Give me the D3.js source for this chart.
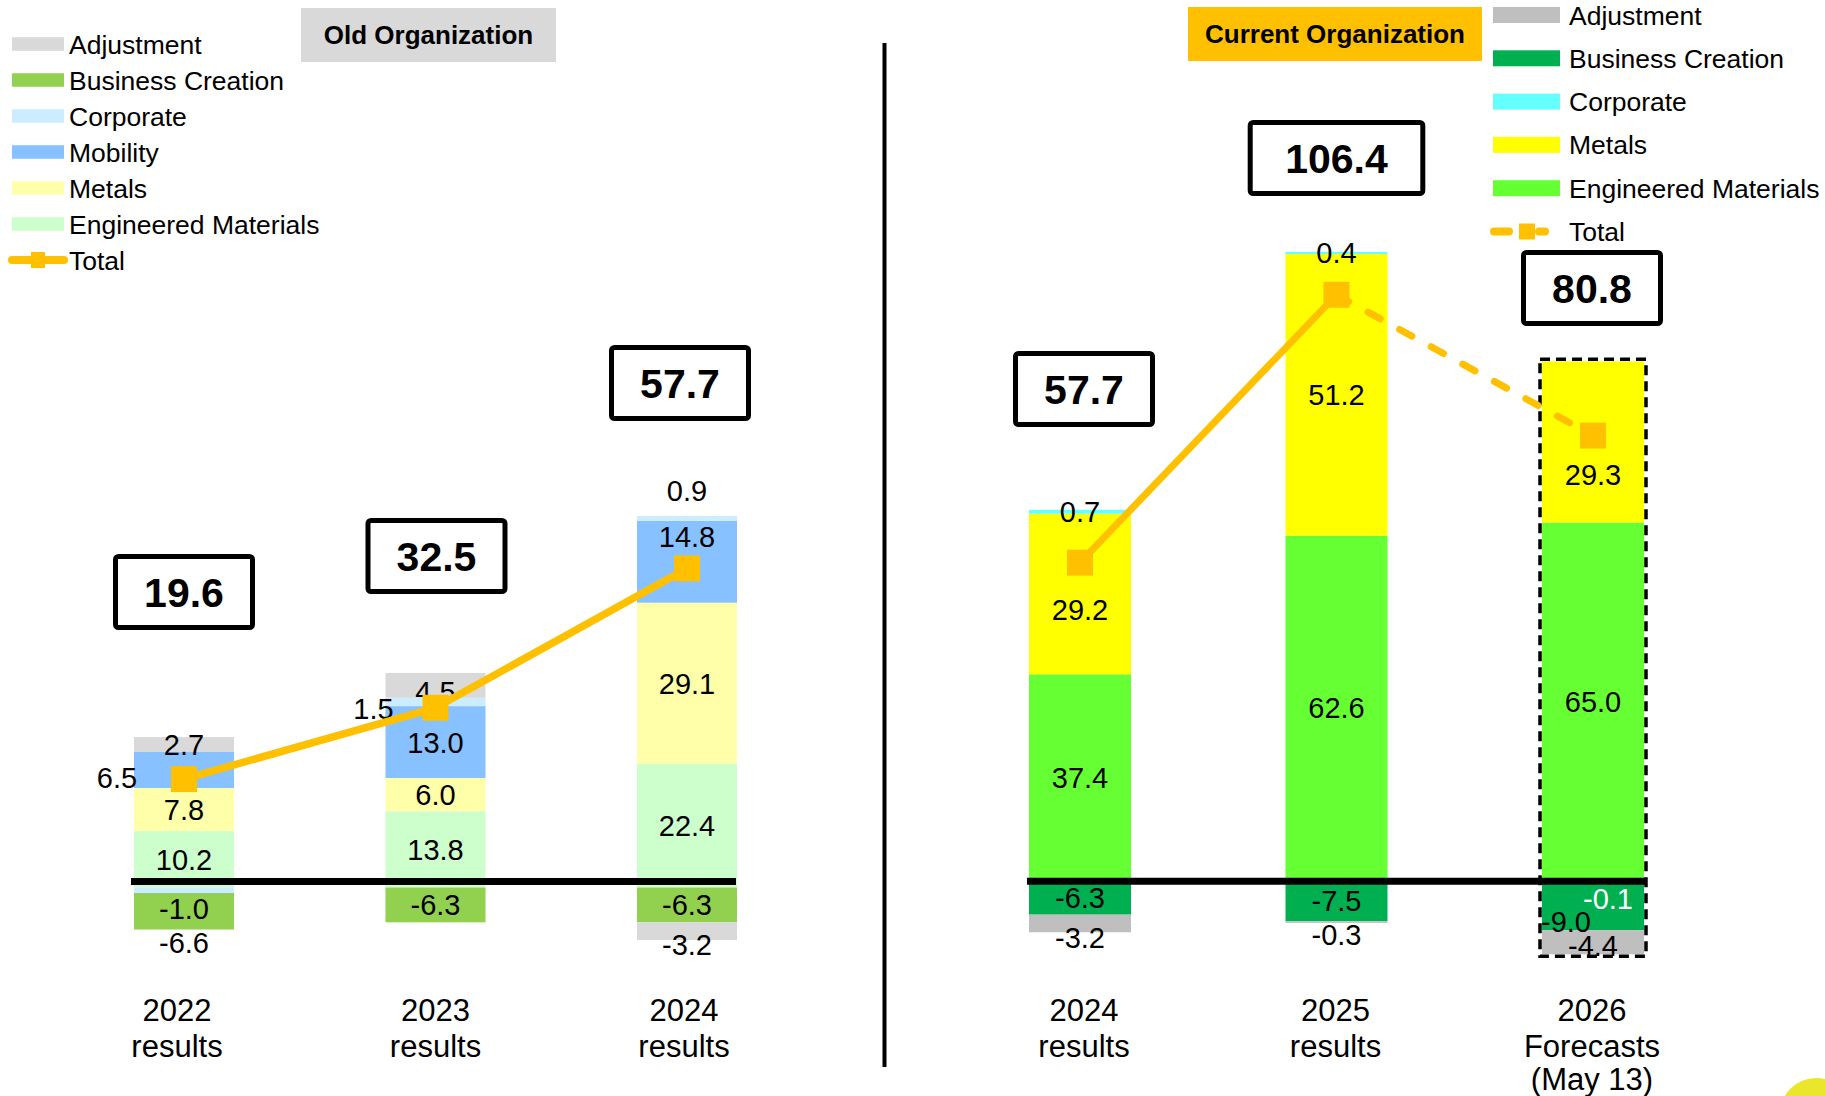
<!DOCTYPE html>
<html>
<head>
<meta charset="utf-8">
<script src="https://cdn.jsdelivr.net/npm/d3@7"></script>
<style>
  html, body { margin: 0; padding: 0; background: #fff; }
  svg { display: block; font-family: "Liberation Sans", Arial, sans-serif; }
</style>
</head>
<body>
<svg id="chart" width="1825" height="1096"></svg>
<script>
// ---- data: old organization ----
const oldCategories = [['2022', 'results'], ['2023', 'results'], ['2024', 'results']];
const oldSeries = ['Engineered Materials', 'Metals', 'Mobility', 'Corporate', 'Business Creation', 'Adjustment'];
const oldEngineered = [10.2, 13.8, 22.4];
const oldMetals = [7.8, 6.0, 29.1];
const oldMobility = [6.5, 13.0, 14.8];
const oldCorporate = [-1.0, 1.5, 0.9];
const oldBusinessCreation = [-6.6, -6.3, -6.3];
const oldAdjustment = [2.7, 4.5, -3.2];
const oldTotal = [19.6, 32.5, 57.7];

// ---- data: current organization ----
const newCategories = [['2024', 'results'], ['2025', 'results'], ['2026', 'Forecasts', '(May 13)']];
const newSeries = ['Engineered Materials', 'Metals', 'Corporate', 'Business Creation', 'Adjustment'];
const newEngineered = [37.4, 62.6, 65.0];
const newMetals = [29.2, 51.2, 29.3];
const newCorporate = [0.7, 0.4, -0.1];
const newBusinessCreation = [-6.3, -7.5, -9.0];
const newAdjustment = [-3.2, -0.3, -4.4];
const newTotal = [57.7, 106.4, 80.8];

const oldColors = {
  'Engineered Materials': '#CCFFCC', 'Metals': '#FFFFAA', 'Mobility': '#87C1FF',
  'Corporate': '#CCECFF', 'Business Creation': '#92D050', 'Adjustment': '#D9D9D9'
};
const newColors = {
  'Engineered Materials': '#66FF33', 'Metals': '#FFFF00', 'Corporate': '#66FFFF',
  'Business Creation': '#00B050', 'Adjustment': '#BFBFBF'
};
const totalColor = '#FFC000';

const svg = d3.select('#chart');
// plain hyphen for negatives, like the slide
const fmt = v => (v < 0 ? '-' : '') + Math.abs(v).toFixed(1);

function drawPanel(p) {
  const rows = p.categories.map((c, i) => {
    const r = { idx: i };
    p.series.forEach((s, j) => { r[s] = p.values[j][i]; });
    return r;
  });
  const stacked = d3.stack().keys(p.series).offset(d3.stackOffsetDiverging)(rows);
  const x = d3.scalePoint().domain(d3.range(p.categories.length)).range(p.xRange);
  const y = d3.scaleLinear().domain([0, 100]).range([p.zeroY, p.zeroY - p.k * 100]);
  const bw = p.barWidth;

  const g = svg.append('g');

  // bars
  stacked.forEach(layer => {
    g.selectAll(null)
      .data(layer.filter(d => d[1] !== d[0]))
      .enter()
      .append('rect')
      .attr('x', d => x(d.data.idx) - bw / 2)
      .attr('width', bw)
      .attr('y', d => y(Math.max(d[0], d[1])))
      .attr('height', d => Math.abs(y(d[0]) - y(d[1])))
      .attr('fill', p.colors[layer.key]);
  });

  // dashed frame around forecast bar
  if (p.frameIdx != null) {
    const i = p.frameIdx;
    const top = d3.max(stacked, l => Math.max(l[i][0], l[i][1]));
    const bot = d3.min(stacked, l => Math.min(l[i][0], l[i][1]));
    g.append('rect')
      .attr('x', x(i) - bw / 2 - 2)
      .attr('width', bw + 4)
      .attr('y', y(top) - 2)
      .attr('height', y(bot) - y(top) + 4)
      .attr('fill', 'none')
      .attr('stroke', '#000')
      .attr('stroke-width', 3.5)
      .attr('stroke-dasharray', '10,6');
  }

  // zero line
  g.append('line')
    .attr('x1', p.baseX[0]).attr('x2', p.baseX[1])
    .attr('y1', p.baseY).attr('y2', p.baseY)
    .attr('stroke', '#000').attr('stroke-width', 7);

  // segment labels
  stacked.forEach(layer => {
    layer.forEach(d => {
      const i = d.data.idx;
      const v = d.data[layer.key];
      if (v == null) return;
      const n = p.nudge[i + '|' + layer.key] || {};
      g.append('text')
        .attr('x', x(i) + (n.dx || 0))
        .attr('y', (y(d[0]) + y(d[1])) / 2 + (n.dy || 0))
        .attr('dy', '0.36em')
        .attr('text-anchor', 'middle')
        .attr('font-size', 29)
        .attr('fill', n.fill || '#000')
        .text(fmt(v));
    });
  });

  // total line
  const pts = p.total.map((t, i) => [x(i), y(t)]);
  for (let i = 0; i < pts.length - 1; i++) {
    const dashed = p.dashedFrom != null && i >= p.dashedFrom;
    g.append('line')
      .attr('x1', pts[i][0]).attr('y1', pts[i][1])
      .attr('x2', pts[i + 1][0]).attr('y2', pts[i + 1][1])
      .attr('stroke', totalColor)
      .attr('stroke-width', p.lineWidth)
      .attr('stroke-linecap', dashed ? 'round' : 'butt')
      .attr('stroke-dasharray', dashed ? '14,22' : null);
  }
  g.selectAll(null)
    .data(pts)
    .enter()
    .append('rect')
    .attr('x', d => d[0] - 13)
    .attr('y', d => d[1] - 13)
    .attr('width', 26)
    .attr('height', 26)
    .attr('fill', totalColor);

  // boxed totals
  p.total.forEach((t, i) => {
    const txt = g.append('text')
      .attr('x', x(i) + (p.boxDx[i] || 0))
      .attr('y', p.boxY[i])
      .attr('dy', '0.36em')
      .attr('text-anchor', 'middle')
      .attr('font-size', 41)
      .attr('font-weight', 'bold')
      .text(fmt(t));
    const tw = txt.node().getComputedTextLength();
    const w = tw > 90 ? tw + 75 : 142;
    g.insert('rect', () => txt.node())
      .attr('x', x(i) + (p.boxDx[i] || 0) - w / 2 + 2.5)
      .attr('y', p.boxY[i] - 38 + 2.5)
      .attr('width', w - 5)
      .attr('height', 71)
      .attr('rx', 3)
      .attr('fill', '#fff')
      .attr('stroke', '#000')
      .attr('stroke-width', 5);
  });

  // category labels
  const lineY = [1021, 1057, 1090];
  p.categories.forEach((lines, i) => {
    const t = g.append('text')
      .attr('text-anchor', 'middle')
      .attr('font-size', 31)
      .attr('fill', '#000');
    lines.forEach((ln, j) => {
      t.append('tspan')
        .attr('x', x(i) + (p.catDx[i] || 0))
        .attr('y', lineY[j])
        .text(ln);
    });
  });
}

drawPanel({
  categories: oldCategories,
  series: oldSeries,
  values: [oldEngineered, oldMetals, oldMobility, oldCorporate, oldBusinessCreation, oldAdjustment],
  total: oldTotal,
  colors: oldColors,
  xRange: [184, 687],
  zeroY: 887.5,
  k: 5.53,
  barWidth: 100,
  baseX: [131, 736],
  baseY: 881.5,
  lineWidth: 7.5,
  boxY: [592, 556, 383],
  boxDx: [0, 1, -7],
  catDx: [-7, 0, -3],
  nudge: {
    '0|Mobility': { dx: -67, dy: 8 },
    '0|Corporate': { dy: 18 },
    '0|Business Creation': { dy: 31 },
    '1|Corporate': { dx: -62, dy: 7 },
    '1|Adjustment': { dy: 6 },
    '2|Mobility': { dy: -25 },
    '2|Corporate': { dy: -28 },
    '2|Adjustment': { dy: 13 }
  }
});

drawPanel({
  categories: newCategories,
  series: newSeries,
  values: [newEngineered, newMetals, newCorporate, newBusinessCreation, newAdjustment],
  total: newTotal,
  colors: newColors,
  xRange: [1080, 1593],
  zeroY: 880,
  k: 5.5,
  barWidth: 102,
  baseX: [1027, 1646],
  baseY: 881.3,
  lineWidth: 7,
  boxY: [389, 158, 288],
  boxDx: [4, 0, -1],
  catDx: [4, -1, -1],
  frameIdx: 2,
  dashedFrom: 1,
  nudge: {
    '0|Metals': { dy: 16 },
    '0|Adjustment': { dy: 14 },
    '1|Adjustment': { dy: 12 },
    '2|Metals': { dy: 33 },
    '2|Corporate': { dx: 15, dy: 18, fill: '#fff' },
    '2|Business Creation': { dx: -27, dy: 16 },
    '2|Adjustment': { dy: 3 }
  }
});

// divider
svg.append('line')
  .attr('x1', 884.5).attr('x2', 884.5)
  .attr('y1', 43).attr('y2', 1067)
  .attr('stroke', '#000').attr('stroke-width', 4);

// organization headers
function header(x0, y0, w, h, fill, label) {
  svg.append('rect').attr('x', x0).attr('y', y0).attr('width', w).attr('height', h).attr('fill', fill);
  svg.append('text')
    .attr('x', x0 + w / 2).attr('y', y0 + h / 2)
    .attr('dy', '0.36em')
    .attr('text-anchor', 'middle')
    .attr('font-size', 26)
    .attr('font-weight', 'bold')
    .text(label);
}
header(301, 8, 255, 54, '#D9D9D9', 'Old Organization');
header(1188, 7, 294, 54, '#FFC000', 'Current Organization');

// legends
function legend(items, colors, x0, y0, step, sw, sh, tx, dashedTotal) {
  items.forEach((name, i) => {
    const cy = y0 + i * step;
    if (name === 'Total') {
      if (dashedTotal) {
        [[x0 + 1, x0 + 16], [x0 + 46, x0 + 52]].forEach(s => {
          svg.append('line').attr('x1', s[0]).attr('x2', s[1]).attr('y1', cy).attr('y2', cy)
            .attr('stroke', totalColor).attr('stroke-width', 8).attr('stroke-linecap', 'round');
        });
        svg.append('rect').attr('x', x0 + 26).attr('y', cy - 8).attr('width', 16).attr('height', 16).attr('fill', totalColor);
      } else {
        svg.append('line').attr('x1', x0).attr('x2', x0 + sw).attr('y1', cy).attr('y2', cy)
          .attr('stroke', totalColor).attr('stroke-width', 8).attr('stroke-linecap', 'round');
        svg.append('rect').attr('x', x0 + sw / 2 - 7).attr('y', cy - 8).attr('width', 14).attr('height', 16).attr('fill', totalColor);
      }
    } else {
      svg.append('rect').attr('x', x0).attr('y', cy - sh / 2).attr('width', sw).attr('height', sh).attr('fill', colors[name]);
    }
    svg.append('text')
      .attr('x', tx).attr('y', cy)
      .attr('dy', '0.36em')
      .attr('font-size', 26.5)
      .text(name);
  });
}
legend(oldSeries.slice().reverse().concat(['Total']), oldColors, 12, 44, 36, 52, 13.5, 69, false);
legend(newSeries.slice().reverse().concat(['Total']), newColors, 1493, 15, 43.3, 67, 16, 1569, true);

// page badge
svg.append('circle').attr('cx', 1816).attr('cy', 1114).attr('r', 36).attr('fill', '#E9E62C');
</script>
</body>
</html>
